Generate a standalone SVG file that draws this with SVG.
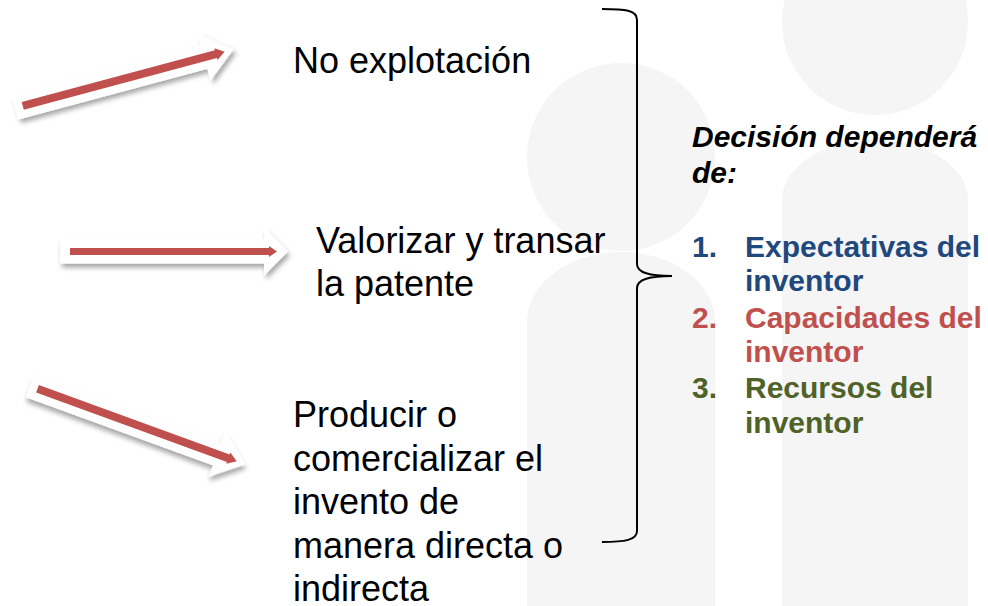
<svg xmlns="http://www.w3.org/2000/svg" width="988" height="606" viewBox="0 0 988 606">
  <defs>
    <filter id="shadow" x="-10%" y="-60%" width="120%" height="220%">
      <feDropShadow dx="2" dy="4" stdDeviation="2.5" flood-color="#000" flood-opacity="0.35"/>
    </filter>
    <style>
      .sil { fill: #f5f5f5; }
      .wa { fill: #ffffff; filter: url(#shadow); }
      .ra { fill: #c0504d; }
      .t { font-family: "Liberation Sans", Arial, sans-serif; font-size: 36px; fill: #000; }
      .r { font-family: "Liberation Sans", Arial, sans-serif; font-size: 30px; font-weight: bold; }
      .brace { fill: none; stroke: #000; stroke-width: 2; }
    </style>
  </defs>
  <rect width="988" height="606" fill="#ffffff"/>

  <g id="background">
    <circle class="sil" cx="621" cy="157" r="94"/>
    <path class="sil" d="M527,606 V322 A94,70 0 0 1 715,322 V606 Z"/>
    <circle class="sil" cx="875" cy="22" r="93"/>
    <path class="sil" d="M782,606 V200 A93,60 0 0 1 968,200 V606 Z"/>
  </g>

  <g id="connectors">
    <g id="arrow1" transform="translate(15,108) rotate(-15)">
      <path class="wa" d="M0,-12 H196 V-24 L226,0 L196,24 V12 H0 Z"/>
      <path class="ra" d="M8,-4 H208 V-6 L217,0 L208,6 V4 H8 Z"/>
    </g>
    <g id="arrow2" transform="translate(60,251.5)">
      <path class="wa" d="M0,-12 H204 V-24 L228,0 L204,24 V12 H0 Z"/>
      <path class="ra" d="M10,-3.5 H209 V-5.5 L217,0 L209,5.5 V3.5 H10 Z"/>
    </g>
    <g id="arrow3" transform="translate(30,386) rotate(20)">
      <path class="wa" d="M0,-12 H199 V-24 L229,0 L199,24 V12 H0 Z"/>
      <path class="ra" d="M8,-4 H211 V-6 L220,0 L211,6 V4 H8 Z"/>
    </g>
    <path id="brace" class="brace" d="M602,9 C625,9 637,10 637,20 L637,264 C637,273 650,276 672,276 C650,276 637,279 637,288 L637,531 C637,540 625,542 602,542"/>
  </g>

  <g id="node-no-explotacion">
    <text class="t" x="293" y="73">No explotación</text>
  </g>
  <g id="node-valorizar">
    <text class="t" x="316" y="253">Valorizar y transar</text>
    <text class="t" x="316" y="296">la patente</text>
  </g>
  <g id="node-producir">
    <text class="t" x="293" y="427">Producir o</text>
    <text class="t" x="293" y="471">comercializar el</text>
    <text class="t" x="293" y="514">invento de</text>
    <text class="t" x="293" y="558">manera directa o</text>
    <text class="t" x="293" y="601">indirecta</text>
  </g>
  <g id="node-decision">
    <text class="r" x="692" y="147" font-style="italic" fill="#000">Decisión dependerá</text>
    <text class="r" x="692" y="183" font-style="italic" fill="#000">de:</text>
    <g fill="#1f497d">
      <text class="r" x="692" y="257">1.</text>
      <text class="r" x="745" y="257">Expectativas del</text>
      <text class="r" x="745" y="291">inventor</text>
    </g>
    <g fill="#c0504d">
      <text class="r" x="692" y="328">2.</text>
      <text class="r" x="745" y="328">Capacidades del</text>
      <text class="r" x="745" y="362">inventor</text>
    </g>
    <g fill="#4f6228">
      <text class="r" x="692" y="398">3.</text>
      <text class="r" x="745" y="398">Recursos del</text>
      <text class="r" x="745" y="433">inventor</text>
    </g>
  </g>
</svg>
